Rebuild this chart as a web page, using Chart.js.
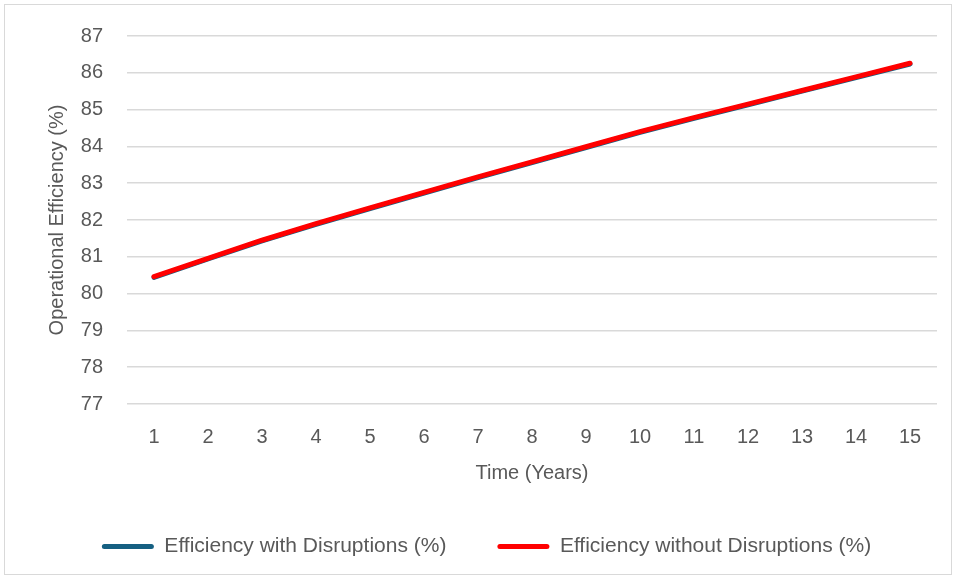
<!DOCTYPE html>
<html>
<head>
<meta charset="utf-8">
<script src="https://cdn.jsdelivr.net/npm/chart.js@4/dist/chart.umd.min.js"></script>
<style>
  html, body { margin: 0; padding: 0; background: #ffffff; }
  #wrap { width: 956px; height: 579px; position: relative; }
</style>
</head>
<body>
<div id="wrap"><canvas id="chart" width="956" height="579"></canvas></div>
<script>
// Time axis (years) and efficiency series
const years = ['1','2','3','4','5','6','7','8','9','10','11','12','13','14','15'];
const withDisruptions = [80.44, 80.94, 81.43, 81.88, 82.31, 82.73, 83.15, 83.56, 83.97, 84.38, 84.76, 85.13, 85.50, 85.87, 86.24];
const withoutDisruptions = [80.46, 80.96, 81.45, 81.90, 82.33, 82.75, 83.17, 83.58, 83.99, 84.40, 84.78, 85.15, 85.52, 85.89, 86.26];
const yMin = 77, yMax = 87, yStep = 1;

const TEXT = '#595959';
const GRID = '#d9d9d9';
const FONT = "'Liberation Sans', Arial, sans-serif";

// Thin frame around the whole chart
const framePlugin = {
  id: 'frame',
  beforeDraw(chart) {
    const c = chart.ctx;
    c.save();
    c.fillStyle = '#ffffff';
    c.fillRect(0, 0, chart.width, chart.height);
    c.strokeStyle = GRID;
    c.lineWidth = 1;
    c.strokeRect(4.5, 4.5, chart.width - 9, chart.height - 9);
    c.restore();
  }
};

// Nudge the legend row to the right so it sits under the plot
const legendShift = {
  id: 'legendShift',
  afterLayout(chart) {
    if (chart.legend) {
      chart.legend.left += 18;
      chart.legend.right += 18;
    }
  }
};

new Chart(document.getElementById('chart'), {
  type: 'line',
  data: {
    labels: years,
    datasets: [
      {
        label: 'Efficiency with Disruptions (%)',
        data: withDisruptions,
        borderColor: '#156082',
        backgroundColor: '#156082',
        order: 1
      },
      {
        label: 'Efficiency without Disruptions (%)',
        data: withoutDisruptions,
        borderColor: '#ff0000',
        backgroundColor: '#ff0000',
        order: 0
      }
    ]
  },
  options: {
    responsive: false,
    animation: false,
    devicePixelRatio: 1,
    layout: { padding: { top: 35, right: 19, left: 0, bottom: 12 } },
    elements: {
      line: { borderWidth: 5, borderCapStyle: 'round', borderJoinStyle: 'round', tension: 0 },
      point: { radius: 0, hoverRadius: 0 }
    },
    scales: {
      x: {
        type: 'category',
        offset: true,
        grid: { display: false, drawTicks: false },
        border: { display: false },
        ticks: { color: TEXT, font: { family: FONT, size: 20 }, padding: 21, maxRotation: 0 },
        title: {
          display: true,
          text: 'Time (Years)',
          color: TEXT,
          font: { family: FONT, size: 20 },
          padding: { top: 0, bottom: 0 }
        },
        afterFit(scale) { scale.height = 81; }
      },
      y: {
        min: yMin,
        max: yMax,
        grid: { color: GRID, lineWidth: 1.5, drawTicks: false },
        border: { display: false },
        ticks: { stepSize: yStep, color: TEXT, font: { family: FONT, size: 20 }, padding: 24 },
        title: {
          display: true,
          text: 'Operational Efficiency (%)',
          color: TEXT,
          font: { family: FONT, size: 20 },
          padding: { top: 45, bottom: 0 }
        },
        afterFit(scale) { scale.width = 127; }
      }
    },
    plugins: {
      tooltip: { enabled: false },
      legend: {
        position: 'bottom',
        labels: {
          color: TEXT,
          font: { family: FONT, size: 21 },
          boxWidth: 52,
          boxHeight: 5,
          padding: 51,
          useBorderRadius: true,
          borderRadius: 2.5,
          sort: (a, b) => a.datasetIndex - b.datasetIndex,
          generateLabels(chart) {
            return Chart.defaults.plugins.legend.labels.generateLabels(chart).map(item => {
              const ds = chart.data.datasets[item.datasetIndex];
              item.fillStyle = ds.borderColor;
              item.strokeStyle = ds.borderColor;
              item.lineWidth = 0;
              return item;
            });
          }
        }
      }
    }
  },
  plugins: [framePlugin, legendShift]
});
</script>
</body>
</html>
